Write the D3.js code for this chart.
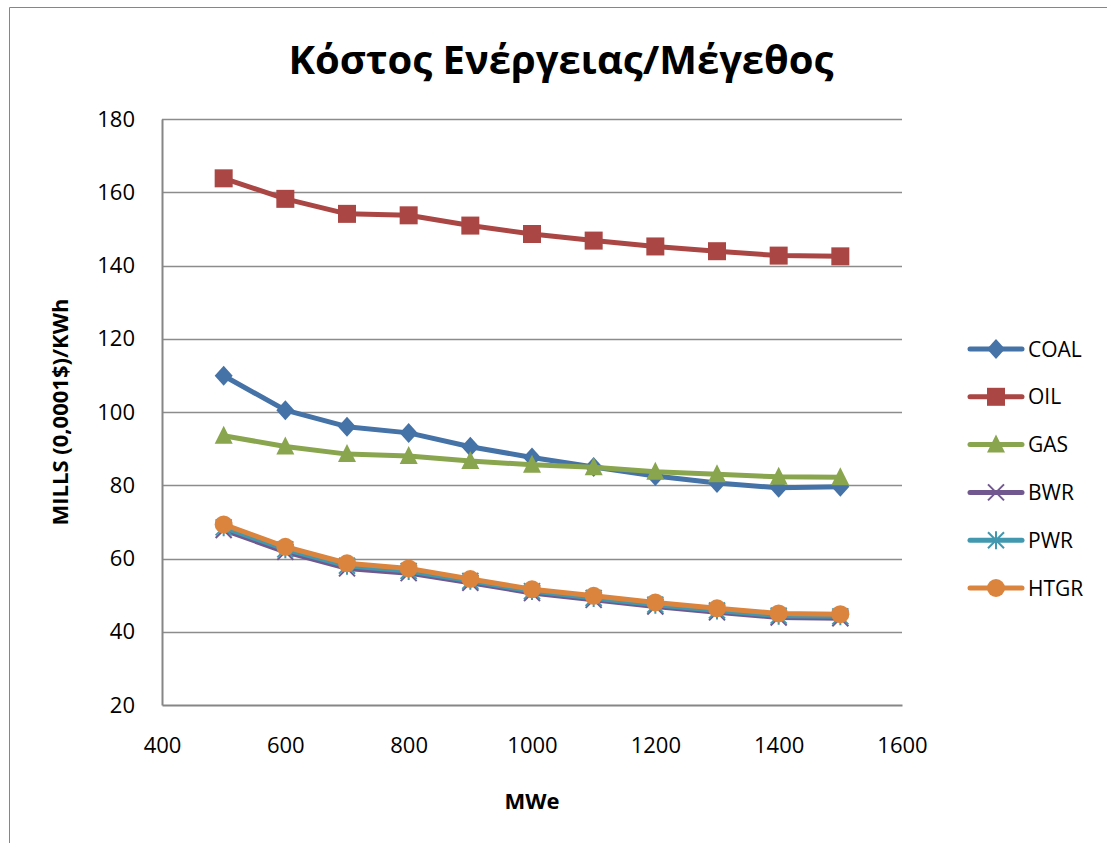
<!DOCTYPE html>
<html lang="el">
<head>
<meta charset="UTF-8"/>
<title>Κόστος Ενέργειας/Μέγεθος</title>
<script src="https://d3js.org/d3.v7.min.js"></script>
<style>
  body { margin: 0; background: #fff; }
  svg { display: block; font-family: "Open Sans", "Noto Sans", sans-serif; }
</style>
</head>
<body>
<div id="chart"></div>
<script>
// data
var sizes = [500, 600, 700, 800, 900, 1000, 1100, 1200, 1300, 1400, 1500];
var coal = [109.9, 100.5, 96.0, 94.3, 90.5, 87.6, 85.0, 82.5, 80.6, 79.3, 79.6];
var oil  = [163.8, 158.2, 154.1, 153.7, 150.9, 148.6, 146.8, 145.2, 143.9, 142.7, 142.5];
var gas  = [93.5, 90.6, 88.5, 88.0, 86.6, 85.6, 84.9, 83.7, 83.0, 82.3, 82.2];
var bwr  = [67.8, 61.8, 57.3, 56.0, 53.4, 50.6, 48.7, 46.9, 45.3, 43.9, 43.7];
var pwr  = [68.5, 62.5, 58.0, 56.6, 53.9, 51.1, 49.2, 47.4, 45.8, 44.4, 44.2];
var htgr = [69.3, 63.2, 58.7, 57.3, 54.4, 51.6, 49.8, 48.0, 46.4, 45.0, 44.8];
var seriesNames = ["COAL", "OIL", "GAS", "BWR", "PWR", "HTGR"];
var xTicks = [400, 600, 800, 1000, 1200, 1400, 1600];
var yTicks = [20, 40, 60, 80, 100, 120, 140, 160, 180];

var w = 1107, h = 843;
// plot area (note: "top" is reserved on window, so use other names)
var plotL = 162, plotR = 902, plotT = 119, plotB = 705;

var series = [
  { values: coal, color: "#4572A7", shape: "diamond" },
  { values: oil,  color: "#AA4643", shape: "square" },
  { values: gas,  color: "#89A54E", shape: "triangle" },
  { values: bwr,  color: "#71588F", shape: "x" },
  { values: pwr,  color: "#4198AF", shape: "star" },
  { values: htgr, color: "#DB843D", shape: "circle" }
];
series.forEach(function(s, i) { s.name = seriesNames[i]; });

var xScale = d3.scaleLinear().domain([400, 1600]).range([plotL, plotR]);
var yScale = d3.scaleLinear().domain([20, 180]).range([plotB, plotT]);

var svg = d3.select("#chart").append("svg")
  .attr("width", w).attr("height", h);

svg.append("rect").attr("width", w).attr("height", h).attr("fill", "#fff");

// outer chart border (only left and top visible in the crop)
svg.append("path")
  .attr("d", "M9.5," + h + "V7.5H" + w)
  .attr("fill", "none").attr("stroke", "#868686").attr("stroke-width", 1);

// gridlines
svg.append("g").selectAll("line")
  .data(yTicks.slice(1))
  .enter().append("line")
  .attr("x1", plotL).attr("x2", plotR)
  .attr("y1", function(d) { return Math.round(yScale(d)) + 0.5; })
  .attr("y2", function(d) { return Math.round(yScale(d)) + 0.5; })
  .attr("stroke", "#8c8c8c").attr("stroke-width", 1.5);

// axes
var xAxis = d3.axisBottom(xScale).tickValues(xTicks).tickSize(0).tickPadding(32)
  .tickFormat(d3.format("d"));
var yAxis = d3.axisLeft(yScale).tickValues(yTicks).tickSize(0).tickPadding(27)
  .tickFormat(d3.format("d"));

var gx = svg.append("g")
  .attr("transform", "translate(0," + plotB + ")")
  .call(xAxis);
var gy = svg.append("g")
  .attr("transform", "translate(" + plotL + ",0)")
  .call(yAxis);

[gx, gy].forEach(function(g) {
  g.select(".domain").attr("stroke", "#868686").attr("stroke-width", 2);
  g.selectAll("text").attr("font-size", "22px").attr("fill", "#000")
    .attr("font-family", "'Open Sans', sans-serif");
});

// marker shapes
function marker(sel, shape, color) {
  if (shape === "circle") {
    sel.append("circle").attr("r", 9).attr("fill", color);
  } else if (shape === "square") {
    sel.append("rect").attr("x", -9).attr("y", -9).attr("width", 18).attr("height", 18).attr("fill", color);
  } else if (shape === "diamond") {
    sel.append("path").attr("d", "M0,-10L9,0L0,10L-9,0Z").attr("fill", color);
  } else if (shape === "triangle") {
    sel.append("path").attr("d", "M0,-10L9,8H-9Z").attr("fill", color);
  } else if (shape === "x") {
    sel.append("path").attr("d", "M-8,-8L8,8M-8,8L8,-8").attr("stroke", color).attr("stroke-width", 2);
  } else if (shape === "star") {
    sel.append("path").attr("d", "M-8,-8L8,8M-8,8L8,-8M0,-9V9").attr("stroke", color).attr("stroke-width", 2);
  }
}

var line = d3.line()
  .x(function(d, i) { return xScale(sizes[i]); })
  .y(function(d) { return yScale(d); });

series.forEach(function(s) {
  var g = svg.append("g");
  g.append("path")
    .datum(s.values)
    .attr("d", line)
    .attr("fill", "none")
    .attr("stroke", s.color)
    .attr("stroke-width", 5)
    .attr("stroke-linejoin", "round")
    .attr("stroke-linecap", "round");
  g.selectAll("g.pt")
    .data(s.values)
    .enter().append("g")
    .attr("class", "pt")
    .attr("transform", function(d, i) { return "translate(" + xScale(sizes[i]) + "," + yScale(d) + ")"; })
    .each(function() { marker(d3.select(this), s.shape, s.color); });
});

// title
svg.append("text")
  .attr("x", 561).attr("y", 74)
  .attr("text-anchor", "middle")
  .attr("font-size", "40px").attr("font-weight", "bold")
  .text("Κόστος Ενέργειας/Μέγεθος");

// axis titles
svg.append("text")
  .attr("transform", "translate(68,412) rotate(-90)")
  .attr("text-anchor", "middle")
  .attr("font-size", "22px").attr("font-weight", "bold")
  .text("MILLS (0,0001$)/KWh");

svg.append("text")
  .attr("x", 532).attr("y", 809)
  .attr("text-anchor", "middle")
  .attr("font-size", "22px").attr("font-weight", "bold")
  .text("MWe");

// legend
var legend = svg.append("g").selectAll("g")
  .data(series)
  .enter().append("g")
  .attr("transform", function(d, i) { return "translate(970," + (349 + i * 47.8) + ")"; });

legend.append("line")
  .attr("x1", 0).attr("x2", 52)
  .attr("stroke", function(d) { return d.color; })
  .attr("stroke-width", 5).attr("stroke-linecap", "round");
legend.each(function(d) {
  var m = d3.select(this).append("g").attr("transform", "translate(26,0)");
  marker(m, d.shape, d.color);
});
legend.append("text")
  .attr("x", 58).attr("dy", "0.36em")
  .attr("font-size", "21px")
  .text(function(d) { return d.name; });
</script>
</body>
</html>
